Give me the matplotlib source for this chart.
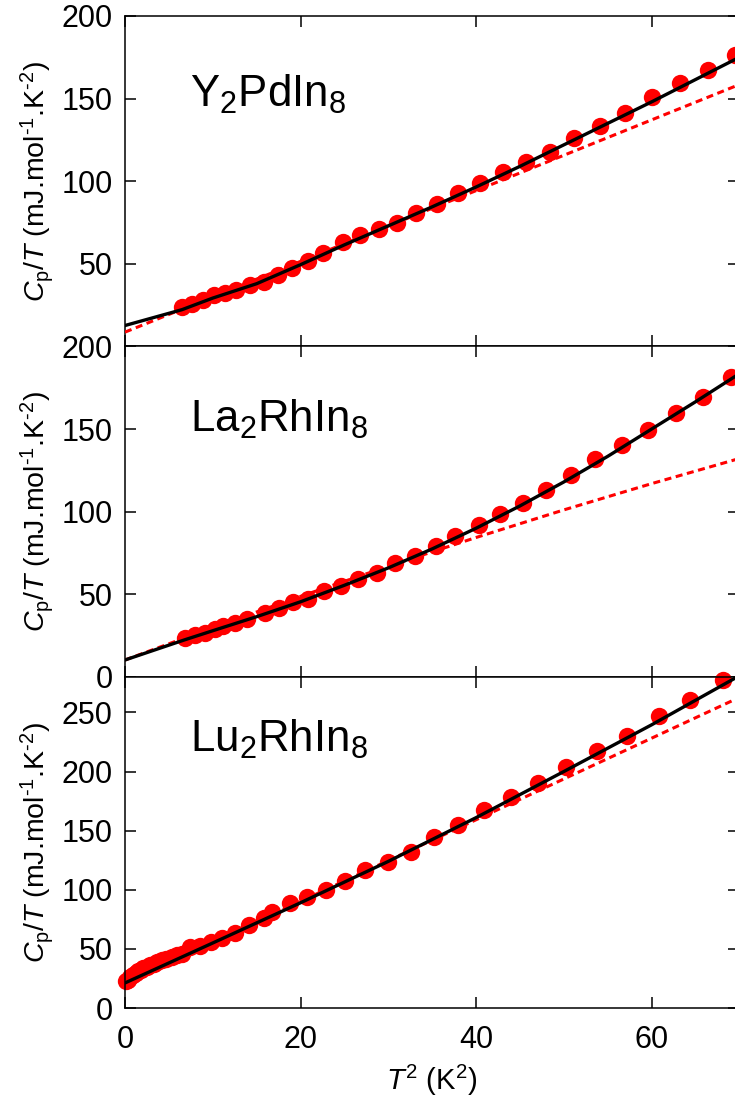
import matplotlib
matplotlib.use("Agg")
import matplotlib.pyplot as plt

plt.rcParams['font.family'] = ['Liberation Sans', 'DejaVu Sans']
plt.rcParams['mathtext.fontset'] = 'custom'
plt.rcParams['mathtext.rm'] = 'Liberation Sans'
plt.rcParams['mathtext.it'] = 'Liberation Sans:italic'

# Y2PdIn8
y_t2 = [6.5, 7.6, 8.9, 10.1, 11.4, 12.7, 14.2, 15.8, 17.4, 19.0, 20.8, 22.6,
        24.9, 26.8, 28.9, 31.0, 33.2, 35.5, 37.9, 40.5, 43.1, 45.7, 48.4, 51.2,
        54.1, 57.0, 60.0, 63.2, 66.4, 69.5]
y_cp = [24.2, 25.9, 28.3, 30.9, 32.3, 33.9, 37.0, 39.0, 43.0, 47.7, 51.7, 56.5,
        63.2, 67.7, 71.3, 74.7, 80.8, 86.5, 92.9, 98.8, 105.6, 111.7, 117.8, 125.9,
        133.3, 141.6, 150.7, 159.2, 167.3, 176.4]
y_fit_x = [0, 6.5, 10, 15, 20, 25, 30, 35, 40, 45, 50, 55, 60, 65, 70]
y_fit = [12.7, 22.3, 29.3, 38.0, 49.5, 61.5, 73.0, 84.5, 96.5, 109.0, 122.0, 135.0, 148.0, 161.5, 175.0]
y_lin_x = [0, 10, 20, 30, 40, 50, 60, 70]
y_lin = [8.7, 30.1, 51.5, 72.9, 94.3, 115.7, 137.1, 158.5]

# La2RhIn8
la_t2 = [6.8, 8.0, 9.1, 10.3, 11.2, 12.5, 13.9, 16.0, 17.5, 19.2, 20.9, 22.7,
         24.6, 26.6, 28.7, 30.8, 33.0, 35.4, 37.6, 40.3, 42.7, 45.3, 48.0, 50.8,
         53.6, 56.6, 59.6, 62.8, 65.9, 69.1]
la_cp = [23.4, 25.4, 26.8, 28.8, 30.8, 32.4, 35.0, 38.5, 41.5, 45.1, 47.5, 52.0,
         55.0, 59.6, 63.0, 69.1, 73.1, 79.5, 85.3, 91.8, 98.5, 105.3, 113.4, 122.1,
         132.1, 140.2, 149.2, 159.7, 169.4, 181.4]
la_fit_x = [0, 6.8, 10, 15, 20, 25, 30, 35, 40, 45, 50, 55, 60, 65, 70]
la_fit = [10.3, 22.5, 28.0, 36.5, 45.5, 55.5, 66.0, 77.5, 90.0, 103.5, 118.0, 133.5, 150.0, 166.5, 183.5]
la_lin_x = [0, 10, 20, 30, 40, 50, 60, 70]
la_lin = [10.3, 29.9, 48.8, 67.0, 84.4, 101.1, 117.0, 132.2]

# Lu2RhIn8
lu_t2 = [0.1, 0.3, 0.6, 0.9, 1.2, 1.5, 1.8, 2.1, 2.5, 2.9, 3.3, 3.7, 4.2, 4.7,
         5.3, 5.9, 6.5, 7.4, 8.5, 9.8, 11.0, 12.5, 14.1, 15.8, 16.8, 18.8, 20.7,
         22.9, 25.1, 27.4, 30.0, 32.6, 35.2, 38.0, 40.9, 44.0, 47.1, 50.3, 53.8,
         57.2, 60.8, 64.4, 68.2]
lu_cp = [22.5, 23.5, 26.0, 28.0, 29.5, 31.0, 32.3, 33.5, 35.0, 36.3, 37.5, 38.8,
         40.2, 41.5, 42.8, 44.5, 46.0, 51.2, 52.3, 55.9, 59.5, 63.6, 70.1, 75.8,
         81.0, 88.5, 93.8, 100.0, 107.6, 116.5, 123.7, 132.2, 144.9, 154.8, 167.5,
         178.8, 190.7, 204.2, 217.8, 229.7, 246.6, 260.8, 277.1]
lu_fit_x = [0, 10, 20, 30, 40, 50, 60, 70]
lu_fit = [21.2, 55.0, 89.0, 124.0, 161.0, 200.0, 239.5, 281.0]
lu_lin_x = [0, 10, 20, 30, 40, 50, 60, 70]
lu_lin = [21.2, 55.7, 90.2, 124.7, 159.2, 193.7, 228.2, 262.7]

names = ['Y$_2$PdIn$_8$', 'La$_2$RhIn$_8$', 'Lu$_2$RhIn$_8$']
panels = [
    (y_t2, y_cp, y_fit_x, y_fit, y_lin_x, y_lin, 200, [50, 100, 150, 200], 0.724),
    (la_t2, la_cp, la_fit_x, la_fit, la_lin_x, la_lin, 200, [0, 50, 100, 150, 200], 0.742),
    (lu_t2, lu_cp, lu_fit_x, lu_fit, lu_lin_x, lu_lin, 280, [0, 50, 100, 150, 200, 250], 0.773),
]

fig = plt.figure(figsize=(7.35, 11), dpi=100)
left, width = 125 / 735, 614.25 / 735
tops = [16, 346.5, 677]
heights = [330.5, 330.5, 331]

for i, (t2, cp, fx, fy, lx, ly, ymax, yt, ty) in enumerate(panels):
    bottom = 1 - (tops[i] + heights[i]) / 1100
    ax = fig.add_axes([left, bottom, width, heights[i] / 1100])
    ax.plot(t2, cp, 'o', color='#ff0000', markersize=12.5, markeredgewidth=0,
            clip_on=False, zorder=2)
    ax.plot(lx, ly, color='#ff0000', lw=2.2, dashes=(2.3, 1.5), zorder=3)
    ax.plot(fx, fy, color='black', lw=2.4, zorder=4)
    ax.set_xlim(0, 70)
    ax.set_ylim(0, ymax)
    ax.set_xticks([0, 20, 40, 60])
    ax.set_yticks(yt)
    ax.tick_params(direction='in', length=8, width=1.1, top=True, right=True,
                   labelsize=22)
    ax.tick_params(axis='y', pad=9)
    ax.tick_params(axis='x', pad=12)
    for s in ax.spines.values():
        s.set_linewidth(1.1)
    if i < 2:
        ax.tick_params(labelbottom=False)
    else:
        ax.set_xlabel('$T^{2}$ (K$^{2}$)', fontsize=21, labelpad=6)
    ax.set_ylabel('$C_\\mathrm{p}/T$ (mJ.mol$^{\\text{-1}}$.K$^{\\text{-2}}$)',
                  fontsize=20.5, labelpad=4)
    ax.text(0.106, ty, names[i], transform=ax.transAxes, fontsize=31.5,
            va='baseline', ha='left')

fig.savefig('out.png', dpi=100)
